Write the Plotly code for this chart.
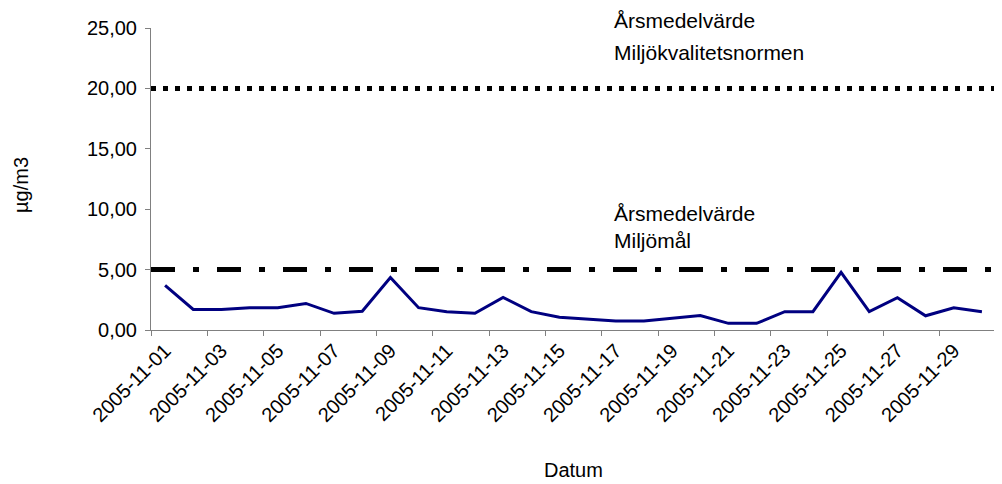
import plotly.graph_objects as go

dates = [f"2005-11-{d:02d}" for d in range(1, 31)]
values = [3.7, 1.7, 1.7, 1.85, 1.85, 2.2, 1.38, 1.55, 4.35, 1.85,
          1.52, 1.38, 2.7, 1.52, 1.05, 0.88, 0.74, 0.74, 1.0, 1.2,
          0.55, 0.55, 1.52, 1.52, 4.77, 1.52, 2.67, 1.18, 1.84, 1.52]
norm_value = 20.0   # Årsmedelvärde Miljökvalitetsnormen
goal_value = 5.0    # Årsmedelvärde Miljömål

x_idx = list(range(1, len(dates) + 1))
label_idx = x_idx[::2]
label_text = dates[::2]
edge = [0.5, len(dates) + 0.5]
boundaries = [0.5 + 2 * k for k in range(len(dates) // 2 + 1)]

FONT = "Liberation Sans, Arial, sans-serif"
FS = 20

fig = go.Figure()
fig.add_trace(go.Scatter(x=edge, y=[norm_value, norm_value], mode="lines",
                         line=dict(color="black", width=5, dash="5px,7px"),
                         cliponaxis=False, hoverinfo="skip", showlegend=False))
fig.add_trace(go.Scatter(x=edge, y=[goal_value, goal_value], mode="lines",
                         line=dict(color="black", width=5, dash="24px,18px,6px,18px"),
                         cliponaxis=False, hoverinfo="skip", showlegend=False))
fig.add_trace(go.Scatter(x=x_idx, y=values, mode="lines",
                         line=dict(color="#000080", width=3),
                         showlegend=False))

for txt, yp in [("Årsmedelvärde", 1.026), ("Miljökvalitetsnormen", 0.92),
                ("Årsmedelvärde", 0.385), ("Miljömål", 0.295)]:
    fig.add_annotation(x=0.5456, xref="paper", y=yp, yref="paper",
                       text=txt, showarrow=False, xanchor="left", yanchor="middle",
                       font=dict(size=21, color="black", family=FONT))

fig.add_annotation(x=-0.154, xref="paper", y=0.48, yref="paper", text="µg/m3",
                   textangle=-90, showarrow=False, xanchor="center", yanchor="middle",
                   font=dict(size=FS, color="black", family=FONT))
fig.add_annotation(x=0.5, xref="paper", y=-0.465, yref="paper", text="Datum",
                   showarrow=False, xanchor="center", yanchor="middle",
                   font=dict(size=FS, color="black", family=FONT))

# the page body has an 8px margin, so the margins are shifted to compensate
fig.update_layout(
    width=1002, height=484,
    margin=dict(l=143, r=14, t=20, b=162, autoexpand=False),
    paper_bgcolor="white", plot_bgcolor="white",
    separators=", ",
    font=dict(family=FONT, size=FS, color="black"),
    xaxis=dict(
        range=edge, tickmode="array", tickvals=label_idx, ticktext=label_text,
        tickangle=-45, ticks="", showgrid=False, zeroline=False, automargin=False,
        showline=True, linecolor="#808080", linewidth=1,
        tickfont=dict(size=FS, family=FONT),
        minor=dict(tickvals=boundaries, ticks="outside", ticklen=5,
                   tickcolor="#808080", showgrid=False),
    ),
    yaxis=dict(
        range=[0, 25], tickmode="linear", tick0=0, dtick=5, tickformat=".2f",
        ticks="outside", ticklen=5, tickcolor="#808080", automargin=False,
        ticklabelstandoff=4,
        showgrid=False, zeroline=False,
        showline=True, linecolor="#808080", linewidth=1,
        tickfont=dict(size=FS, family=FONT),
    ),
)

fig.write_html("out.html")
